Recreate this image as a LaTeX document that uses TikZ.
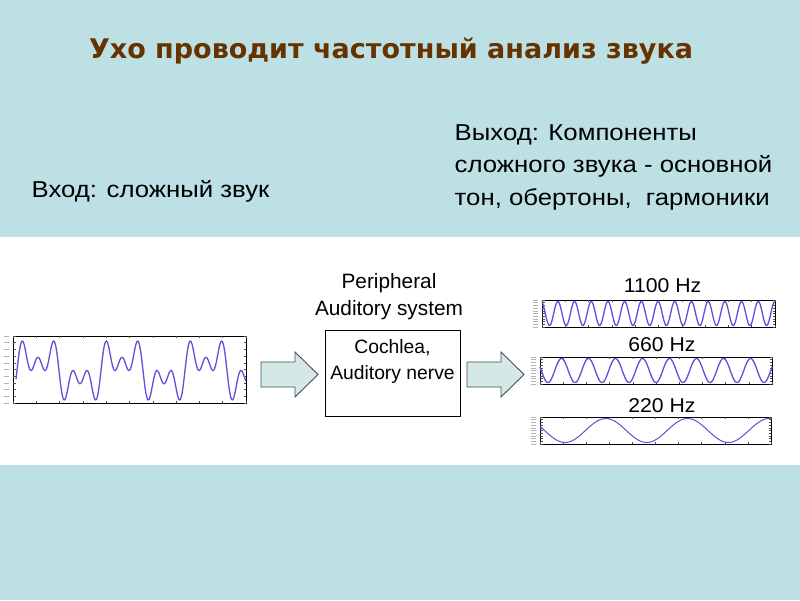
\documentclass[tikz,border=0pt]{standalone}
\usepackage{fontspec}
\setmainfont{Liberation Sans}
\newfontfamily\titlefont{DejaVu Sans}
\newfontfamily\widefont[FakeStretch=1.12]{Liberation Sans}
\newfontfamily\hzfont[FakeStretch=1.06]{Liberation Sans}
\definecolor{bgblue}{RGB}{188,224,228}
\definecolor{titlebrown}{RGB}{102,51,0}
\definecolor{wave}{RGB}{105,75,220}
\definecolor{arrowfill}{RGB}{212,232,232}
\definecolor{arrowline}{RGB}{70,80,80}
\tikzset{
  titletext/.style={font=\titlefont\bfseries\fontsize{27}{32}\selectfont, text=titlebrown, inner sep=0pt, anchor=base},
  rutext/.style={font=\widefont\fontsize{23}{32}\selectfont, inner sep=0pt, anchor=base west},
  entext/.style={font=\fontsize{19.3}{26}\selectfont, inner sep=0pt, align=center},
  hzlabel/.style={font=\hzfont\fontsize{20}{24}\selectfont, inner sep=0pt},
  frame/.style={draw=black, line width=1.2pt},
  wavecurve/.style={draw=wave, line width=1.3pt, line join=round},
  bigarrow/.style={draw=arrowline, fill=arrowfill, line width=0.9pt},
  tick/.style={draw=black!70, line width=0.5pt},
}
\newcommand\plotticks[4]{%
  \foreach \i in {0,...,10}{
    \draw[tick] ({#1+(#3-#1)*\i/10},#4) -- ++(0,-2);
    \draw[tick] ({#1+(#3-#1)*\i/10},#2) -- ++(0,2);
  }
  \foreach \j in {0,...,10}{
    \draw[tick] (#1,{#2+(#4-#2)*\j/10}) -- ++(2.5,0);
    \draw[tick] (#3,{#2+(#4-#2)*\j/10}) -- ++(-2.5,0);
    \draw[black!30, line width=0.6pt] ({#1-9},{#2+(#4-#2)*\j/10}) -- ++(5,0);
  }
}
\begin{document}
\begin{tikzpicture}[x=1pt,y=-1pt]
\fill[bgblue] (0,0) rectangle (800,600);
\useasboundingbox (0,0) rectangle (800,600);
\fill[white] (0,237) rectangle (800,465);

\node[titletext] (title) at (391,58.5) {Ухо проводит частотный анализ звука};
\node[rutext] (input) at (31.5,197.3) {Вход: сложный звук};
\node[rutext] (out1) at (454.5,140.7) {Выход: Компоненты};
\node[rutext] (out2) at (454.5,172.8) {сложного звука - основной};
\node[rutext] (out3) at (454.5,205) {тон, обертоны,\ \ гармоники};

% input plot
\node[frame, minimum width=233, minimum height=67, anchor=north west, inner sep=0pt] (inplot) at (13,336) {};
\plotticks{13}{336}{246}{403}
\begin{scope}
\clip (13,336) rectangle (246,403);
\draw[wavecurve] plot[domain=16:246, samples=600, smooth]
  (\x, {370.5 - 13.2*( sin((\x-17)/84*360) + sin(3*(\x-17)/84*360) + sin(5*(\x-17)/84*360) )});
\end{scope}

% box
\node[draw=black, line width=0.9pt, minimum width=135, minimum height=86, inner sep=0pt] (box) at (392.5,373) {};
\node[entext, anchor=north] (boxtext) at (392.5,339) {Cochlea,\\Auditory nerve};
\node[entext, font=\fontsize{20.8}{27}\selectfont, anchor=south] (periph) at (389,320) {Peripheral\\Auditory system};

% arrows
\coordinate (a1) at (261,374.5);
\draw[bigarrow] (a1) ++(0,-12.5) -- ++(34,0) -- ++(0,-10) -- (318,374.5) -- (295,397) -- ++(0,-10) -- ++(-34,0) -- cycle;
\coordinate (a2) at (467,374.5);
\draw[bigarrow] (a2) ++(0,-12.5) -- ++(34,0) -- ++(0,-10) -- (524,374.5) -- (501,397) -- ++(0,-10) -- ++(-34,0) -- cycle;

% output plots
\node[frame, minimum width=233, minimum height=27, anchor=north west, inner sep=0pt] (p1100) at (542,300) {};
\plotticks{542}{300}{775}{327}
\draw[wavecurve] plot[domain=542:775, samples=400, smooth] (\x, {313.5 + 12*cos((\x-549.5)/16.7*360)});
\node[hzlabel] (l1100) at (662.5,286) {1100 Hz};

\node[frame, minimum width=232, minimum height=27, anchor=north west, inner sep=0pt] (p660) at (540,357) {};
\plotticks{540}{357}{772}{384}
\draw[wavecurve] plot[domain=540:772, samples=300, smooth] (\x, {370.5 + 12*cos((\x-548)/27*360)});
\node[hzlabel] (l660) at (662,345) {660 Hz};

\node[frame, minimum width=231, minimum height=27, anchor=north west, inner sep=0pt] (p220) at (540,417) {};
\plotticks{540}{417}{771}{444}
\draw[wavecurve, line width=1pt] plot[domain=540:771, samples=200, smooth] (\x, {430.5 + 12*cos((\x-565)/81.7*360)});
\node[hzlabel] (l220) at (662,406) {220 Hz};
\end{tikzpicture}
\end{document}
